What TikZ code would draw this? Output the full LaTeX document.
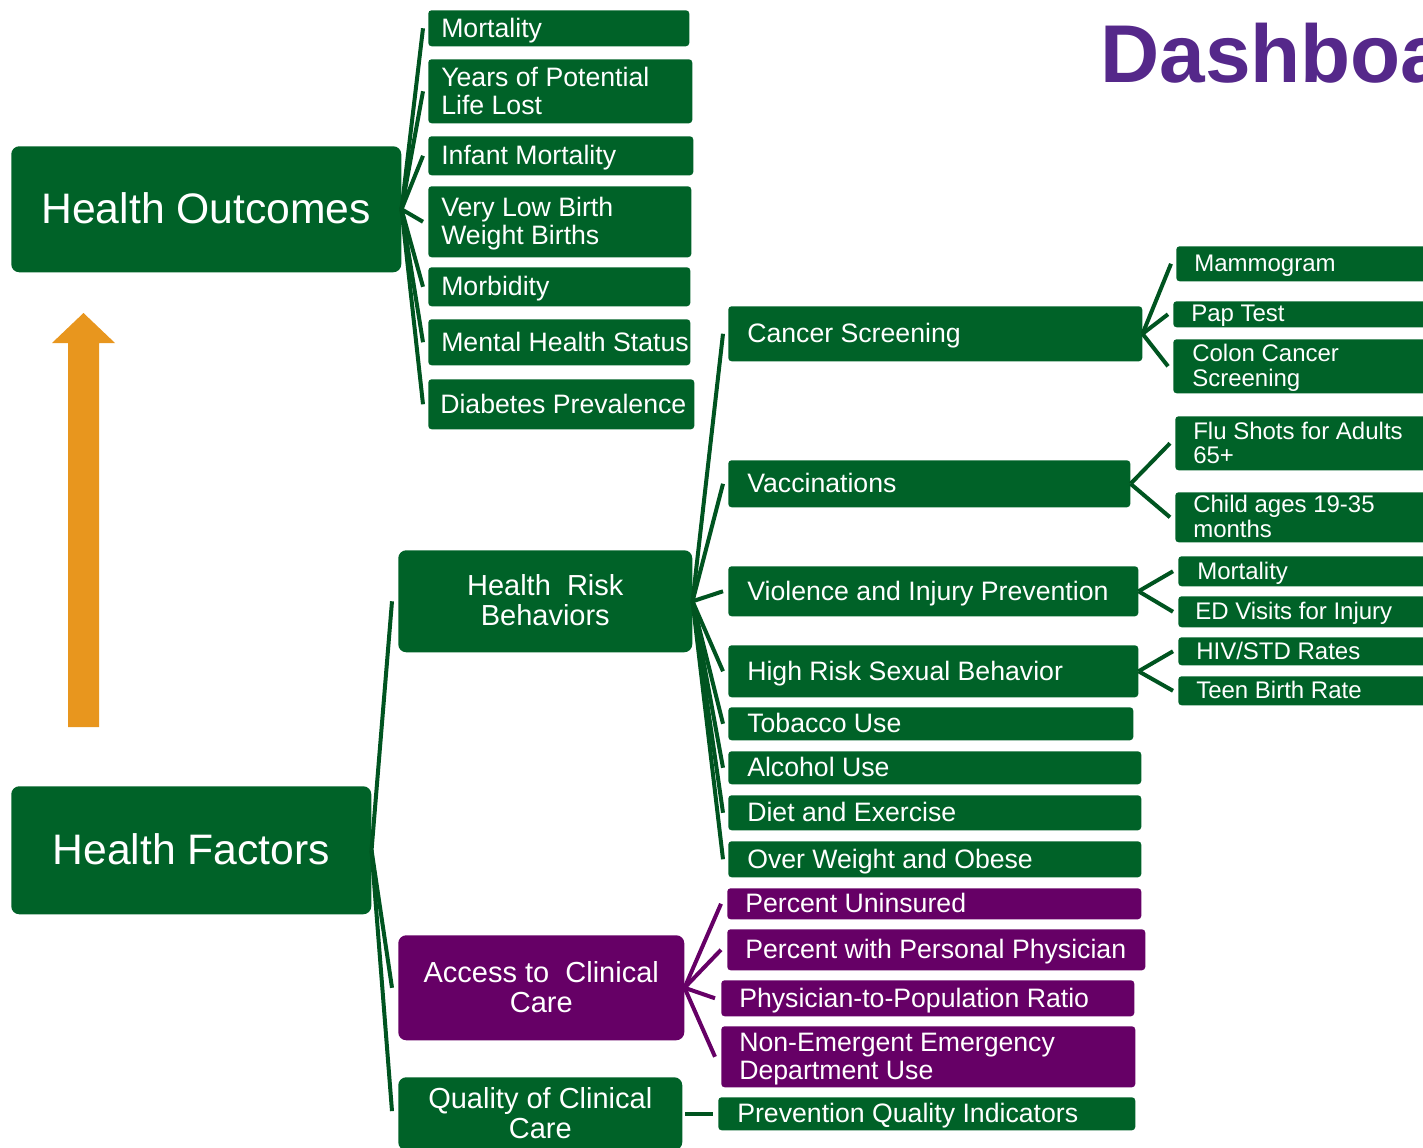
\documentclass[tikz,border=0pt]{standalone}
\usepackage{fontspec}
\setmainfont{Liberation Sans}
\definecolor{hgreen}{RGB}{0,98,40}
\definecolor{lgreen}{RGB}{0,84,32}
\definecolor{hpurple}{RGB}{102,0,102}
\definecolor{horange}{RGB}{232,150,30}
\definecolor{htitle}{RGB}{85,40,138}
\newcommand\bx[9]{%
 \pgfmathsetmacro\bxtw{(#4-#2-2*#7)*0.75}%
 \pgfmathsetmacro\bxin{#7*0.75}%
 \pgfmathsetmacro\bxh{(#5-#3)*0.75}%
 \node[anchor=north west, inner xsep=\bxin pt, inner ysep=0pt, minimum height=\bxh pt, #6] (#1) at (#2,#3)
 {\makebox[\bxtw pt][#8]{\raisebox{-0.12em}[\height][\depth]{\begin{tabular}{@{}#8@{}}#9\end{tabular}}}};}
\tikzset{
 gbox/.style={fill=hgreen, text=white, rounded corners=2.5pt},
 pbox/.style={fill=hpurple, text=white, rounded corners=2.5pt},
 big/.style={rounded corners=6pt},
 fa/.style={font=\fontsize{20}{21}\selectfont},
 fb/.style={font=\fontsize{18}{18}\selectfont},
 fc/.style={font=\fontsize{21.75}{22}\selectfont},
 fd/.style={font=\fontsize{32}{32}\selectfont},
 conn/.style={draw=lgreen, line width=3pt},
 pconn/.style={draw=hpurple, line width=3pt},
}
\begin{document}
\begin{tikzpicture}[x=0.75pt,y=-0.75pt]
\useasboundingbox (0,0) rectangle (1423,1147);
\clip (0,0) rectangle (1423,1147);
% title
\node[anchor=base west, inner sep=0pt, text=htitle, font=\bfseries\fontsize{61.5}{62}\selectfont] (title) at (1100,82) {Dashboard};
% arrow
\fill[horange] (68,727) -- (99,727) -- (99,343) -- (115,343) -- (83.5,313) -- (52,343) -- (68,343) -- cycle;
% big boxes
\bx{ho}{11}{146}{401}{272}{gbox,big,fd}{0}{c}{Health Outcomes}
\bx{hf}{11}{786}{371}{914}{gbox,big,fd}{0}{c}{Health Factors}
\bx{hrb}{398}{550}{692}{652}{gbox,big,fc}{0}{c}{Health\ \ Risk\\Behaviors}
\bx{acc}{398}{935}{684}{1040}{pbox,big,fc}{0}{c}{Access to\ \ Clinical\\Care}
\bx{qual}{398}{1077}{682}{1150}{gbox,big,fc}{0}{c}{Quality of Clinical\\Care}
% outcomes children
\bx{o1}{428}{10}{689}{46}{gbox,fa}{13}{l}{Mortality}
\bx{o2}{428}{59}{692}{123}{gbox,fa}{13}{l}{Years of Potential\\Life Lost}
\bx{o3}{428}{136}{693}{175}{gbox,fa}{13}{l}{Infant Mortality}
\bx{o4}{428}{186}{691}{257}{gbox,fa}{13}{l}{Very Low Birth\\Weight Births}
\bx{o5}{428}{267}{690}{306}{gbox,fa}{13}{l}{Morbidity}
\bx{o6}{428}{319}{690}{365}{gbox,fa}{13}{l}{Mental Health Status}
\bx{o7}{428}{379}{694}{429}{gbox,fa}{12}{l}{Diabetes Prevalence}
% health risk behaviors children
\bx{cs}{728}{306}{1142}{361}{gbox,fa}{19}{l}{Cancer Screening}
\bx{vac}{728}{460}{1130}{507}{gbox,fa}{19}{l}{Vaccinations}
\bx{vio}{728}{566}{1138}{616}{gbox,fa}{19}{l}{Violence and Injury Prevention}
\bx{hrs}{728}{645}{1138}{697}{gbox,fa}{19}{l}{High Risk Sexual Behavior}
\bx{tob}{728}{707}{1133}{740}{gbox,fa}{19}{l}{Tobacco Use}
\bx{alc}{728}{751}{1141}{784}{gbox,fa}{19}{l}{Alcohol Use}
\bx{die}{728}{795}{1141}{830}{gbox,fa}{19}{l}{Diet and Exercise}
\bx{ovw}{728}{841}{1141}{877}{gbox,fa}{19}{l}{Over Weight and Obese}
% right column
\bx{r1}{1176}{246}{1440}{281}{gbox,fb}{18}{l}{Mammogram}
\bx{r2}{1173}{301}{1440}{327}{gbox,fb}{18}{l}{Pap Test}
\bx{r3}{1173}{339}{1440}{393}{gbox,fb}{19}{l}{Colon Cancer\\Screening}
\bx{r4}{1175}{416}{1440}{470}{gbox,fb}{18}{l}{Flu Shots for Adults\\65+}
\bx{r5}{1175}{492}{1440}{542}{gbox,fb}{18}{l}{Child ages 19-35\\months}
\bx{r6}{1178}{556}{1440}{586}{gbox,fb}{19}{l}{Mortality}
\bx{r7}{1178}{596}{1440}{627}{gbox,fb}{17}{l}{ED Visits for Injury}
\bx{r8}{1178}{637}{1440}{665}{gbox,fb}{18}{l}{HIV/STD Rates}
\bx{r9}{1178}{676}{1440}{705}{gbox,fb}{18}{l}{Teen Birth Rate}
% access children
\bx{a1}{727}{888}{1141}{919}{pbox,fa}{18}{l}{Percent Uninsured}
\bx{a2}{727}{929}{1145}{970}{pbox,fa}{18}{l}{Percent with Personal Physician}
\bx{a3}{721}{980}{1134}{1016}{pbox,fa}{18}{l}{Physician-to-Population Ratio}
\bx{a4}{721}{1026}{1135}{1087}{pbox,fa}{18}{l}{Non-Emergent Emergency\\Department Use}
% quality child
\bx{q1}{718}{1097}{1135}{1130}{gbox,fa}{19}{l}{Prevention Quality Indicators}
% connectors
\foreach \c in {o1,o2,o3,o4,o5,o6,o7} \draw[conn] (ho.east) -- ([xshift=-3.75pt]\c.west);
\draw[conn] (hf.east) -- ([xshift=-4.5pt]hrb.west);
\draw[conn] (hf.east) -- ([xshift=-4.5pt]acc.west);
\draw[conn] (hf.east) -- ([xshift=-4.5pt,yshift=2pt]qual.west);
\foreach \c in {cs,vac,vio,hrs,tob,alc,die,ovw} \draw[conn] (hrb.east) -- ([xshift=-3.75pt]\c.west);
\foreach \c in {r1,r2,r3} \draw[conn] (cs.east) -- ([xshift=-3.75pt]\c.west);
\foreach \c in {r4,r5} \draw[conn] (vac.east) -- ([xshift=-3.75pt]\c.west);
\foreach \c in {r6,r7} \draw[conn] (vio.east) -- ([xshift=-3.75pt]\c.west);
\foreach \c in {r8,r9} \draw[conn] (hrs.east) -- ([xshift=-3.75pt]\c.west);
\foreach \c in {a1,a2,a3,a4} \draw[pconn] (acc.east) -- ([xshift=-4.5pt]\c.west);
\draw[conn] ([xshift=2pt]qual.east |- q1.west) -- ([xshift=-3.75pt]q1.west);
\end{tikzpicture}
\end{document}
